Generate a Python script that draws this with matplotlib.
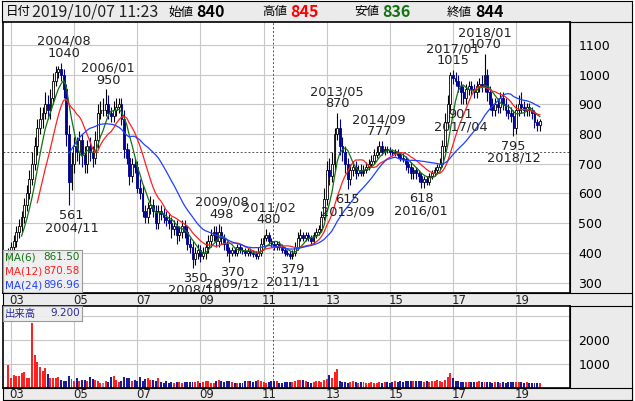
import numpy as np
import pandas as pd
import matplotlib
matplotlib.use("Agg")
import matplotlib.pyplot as plt
from matplotlib.patches import Rectangle

W, H = 635, 401
CJK = ["Noto Sans CJK JP", "DejaVu Sans"]

# monthly closes, 2002/12 .. 2019/10
closes = [400,
    420, 440, 470, 490, 520, 560, 600, 650, 700, 760, 820, 850,
    870, 900, 880, 920, 980, 1010, 1020, 1000, 950, 800, 640, 700,
    760, 740, 780, 730, 700, 760, 740, 720, 780, 870, 880, 880,
    900, 870, 860, 880, 890, 900, 850, 750, 720, 660, 700, 690,
    620, 600, 540, 520, 550, 560, 540, 500, 540, 530, 520, 510,
    500, 480, 490, 460, 470, 490, 470, 430, 420, 380, 400, 410,
    390, 400, 420, 440, 460, 470, 440, 470, 450, 430, 410, 400,
    410, 400, 420, 410, 405, 400, 405, 400, 395, 390, 400, 430,
    450, 460, 440, 430, 420, 430, 420, 410, 400, 395, 390, 400,
    420, 450, 460, 450, 460, 450, 440, 460, 470, 480, 520, 580,
    680, 660, 700, 800, 820, 760, 740, 700, 650, 680, 690, 670,
    680, 670, 680, 690, 700, 710, 730, 740, 760, 740, 750, 745,
    740, 735, 740, 730, 720, 715, 700, 690, 670, 680, 670, 660,
    640, 650, 640, 660, 670, 680, 690, 700, 760, 840, 900, 1000,
    990, 980, 960, 940, 920, 950, 960, 950, 940, 960, 970, 960,
    1000, 940, 900, 880, 900, 890, 920, 900, 880, 870, 860, 820,
    880, 900, 890, 880, 890, 880, 870, 840, 830, 844]

wick_up = [15,
    15, 20, 20, 25, 20, 25, 30, 30, 40, 30, 30, 40,
    20, 40, 30, 30, 25, 20, 10, 20, 20, 20, 30, 40,
    30, 30, 30, 20, 30, 20, 30, 20, 30, 30, 30, 40,
    50, 30, 20, 30, 30, 20, 20, 30, 20, 30, 20, 20,
    20, 30, 30, 20, 20, 30, 20, 20, 20, 20, 20, 20,
    20, 20, 20, 20, 20, 20, 20, 20, 20, 20, 20, 20,
    15, 20, 20, 20, 20, 20, 20, 28, 20, 15, 10, 10,
    10, 10, 10, 10, 10, 10, 10, 10, 10, 10, 20, 20,
    10, 20, 10, 10, 10, 10, 10, 10, 10, 10, 10, 10,
    15, 20, 20, 10, 10, 10, 10, 10, 15, 15, 20, 40,
    30, 40, 40, 20, 50, 30, 30, 20, 20, 20, 20, 20,
    15, 20, 15, 15, 15, 20, 20, 20, 17, 15, 10, 10,
    10, 10, 10, 10, 10, 15, 10, 10, 15, 10, 10, 10,
    10, 10, 10, 10, 10, 10, 10, 20, 20, 30, 30, 10,
    15, 20, 20, 20, 20, 20, 20, 20, 20, 20, 20, 30,
    70, 20, 20, 20, 20, 20, 20, 20, 20, 20, 20, 20,
    20, 30, 40, 20, 15, 15, 10, 10, 10, 6]

wick_dn = [20,
    20, 20, 20, 20, 20, 20, 20, 20, 20, 20, 30, 20,
    30, 20, 30, 30, 20, 20, 20, 20, 30, 40, 79, 30,
    30, 30, 40, 40, 30, 30, 30, 30, 20, 30, 20, 20,
    20, 20, 20, 20, 20, 20, 20, 30, 20, 30, 20, 20,
    20, 20, 20, 20, 20, 20, 20, 20, 20, 20, 20, 20,
    20, 30, 20, 30, 20, 20, 20, 20, 20, 30, 20, 20,
    20, 10, 20, 20, 20, 20, 20, 20, 20, 20, 20, 30,
    10, 10, 10, 10, 10, 10, 10, 10, 10, 10, 10, 10,
    10, 10, 10, 10, 10, 10, 10, 10, 10, 5, 11, 10,
    10, 10, 10, 10, 10, 10, 10, 10, 10, 10, 10, 10,
    20, 30, 20, 20, 20, 30, 30, 30, 35, 20, 20, 20,
    10, 10, 10, 10, 10, 10, 10, 10, 10, 10, 10, 10,
    10, 10, 10, 10, 10, 10, 20, 20, 20, 20, 20, 20,
    22, 20, 10, 10, 10, 10, 10, 10, 10, 20, 20, 20,
    20, 20, 20, 39, 20, 20, 20, 20, 20, 20, 20, 20,
    20, 30, 20, 20, 20, 20, 20, 20, 20, 20, 20, 25,
    20, 20, 20, 20, 20, 20, 20, 20, 20, 20]

volume = [950,
    420, 520, 480, 500, 620, 650, 430, 430, 2700, 1380, 1080, 880,
    700, 850, 560, 420, 400, 430, 470, 330, 300, 280, 480, 360,
    300, 420, 280, 350, 320, 270, 450, 380, 350, 300, 220, 220,
    300, 260, 440, 480, 340, 230, 290, 460, 400, 430, 270, 350,
    280, 470, 300, 370, 420, 350, 350, 300, 400, 230, 220, 280,
    220, 240, 200, 250, 250, 220, 230, 240, 250, 260, 230, 290,
    220, 250, 300, 290, 220, 220, 280, 320, 280, 240, 300, 280,
    260, 220, 200, 200, 220, 290, 300, 280, 230, 300, 320, 280,
    230, 200, 250, 300, 310, 300, 220, 210, 240, 230, 230, 240,
    280, 330, 350, 330, 300, 260, 200, 250, 310, 300, 250, 320,
    380, 520, 400, 650, 780, 300, 250, 230, 220, 250, 270, 260,
    220, 240, 230, 220, 220, 230, 200, 220, 230, 210, 240, 240,
    220, 250, 280, 250, 300, 250, 280, 300, 270, 300, 290, 300,
    300, 250, 290, 240, 300, 280, 320, 300, 260, 340, 450, 620,
    420, 300, 270, 250, 240, 230, 240, 230, 260, 250, 280, 240,
    230, 250, 240, 220, 260, 230, 220, 240, 220, 240, 230, 240,
    230, 240, 240, 220, 230, 220, 210, 220, 220, 200]

# (month index, price, first line, second line, above/below)
notes = [
    (21, 1040, "2004/08", "1040", "above"),
    (24, 561, "561", "2004/11", "below"),
    (38, 950, "2006/01", "950", "above"),
    (71, 350, "350", "2008/10", "below"),
    (81, 498, "2009/08", "498", "above"),
    (85, 370, "370", "2009/12", "below"),
    (99, 480, "2011/02", "480", "above"),
    (108, 379, "379", "2011/11", "below"),
    (125, 870, "2013/05", "870", "above"),
    (129, 615, "615", "2013/09", "below"),
    (141, 777, "2014/09", "777", "above"),
    (157, 618, "618", "2016/01", "below"),
    (169, 1015, "2017/01", "1015", "above"),
    (172, 901, "901", "2017/04", "below"),
    (181, 1070, "2018/01", "1070", "above"),
    (192, 795, "795", "2018/12", "below"),
]

year_labels = ["03", "05", "07", "09", "11", "13", "15", "17", "19"]
price_ticks = [300, 400, 500, 600, 700, 800, 900, 1000, 1100]
ma_names = ["MA(6)", "MA(12)", "MA(24)"]
ma_values = ["861.50", "870.58", "896.96"]

c = np.array(closes, dtype=float)
o = np.r_[c[0] - 20, c[:-1]]
hi = np.maximum(o, c) + np.array(wick_up)
lo = np.minimum(o, c) - np.array(wick_dn)
x = np.arange(len(c))
cs = pd.Series(c)
mas = [cs.rolling(n).mean() for n in (6, 12, 24)]
ma_cols = ["#137313", "#ff2020", "#2040ff"]

fig = plt.figure(figsize=(W / 100, H / 100), dpi=100)


def ax_px(x0, y0, x1, y1, **kw):
    return fig.add_axes([x0 / W, 1 - y1 / H, (x1 - x0) / W, (y1 - y0) / H], **kw)


xlim = (-2.04, 213.5)
jan = [1 + 24 * k for k in range(9)]
grey = "#ebebeb"

# header
hd = ax_px(2, 1, 632, 22)
hd.set_facecolor(grey)
hd.set_xticks([]); hd.set_yticks([])
hd.set_xlim(0, 630); hd.set_ylim(0, 21)
parts = [(4, "日付", 9, "normal", "k"), (30, "2019/10/07 11:23", 11.5, "normal", "#222"),
         (166, "始値", 9, "normal", "k"), (194, "840", 11.5, "bold", "k"),
         (260, "高値", 9, "normal", "k"), (288, "845", 11.5, "bold", "#ff0000"),
         (352, "安値", 9, "normal", "k"), (380, "836", 11.5, "bold", "#137313"),
         (445, "終値", 9, "normal", "k"), (473, "844", 11.5, "bold", "k")]
for px, t, fs, fw, col in parts:
    hd.text(px, 10, t, fontsize=fs, fontweight=fw, color=col, va="center", family=CJK)

# right grey area
rg = ax_px(570, 22, 632, 401)
rg.set_facecolor(grey); rg.set_xticks([]); rg.set_yticks([])

# main price panel
ax = ax_px(3, 22, 570, 293)
ax.set_xlim(*xlim); ax.set_ylim(265, 1177)
for yv in price_ticks:
    ax.axhline(yv, color="#c8c8c8", lw=0.8, zorder=0)
for xv in jan:
    ax.axvline(xv, color="#c8c8c8", lw=0.8, zorder=0)
ax.axhline(740, color="#555", lw=0.7, ls=(0, (2, 2)), zorder=1)
ax.axvline(100.5, color="#555", lw=0.7, ls=(0, (2, 2)), zorder=1)
up = c >= o
for i in range(len(c)):
    col = "k" if up[i] else "#000090"
    ax.vlines(x[i], lo[i], hi[i], color=col, lw=0.8, zorder=2)
    b0, b1 = min(o[i], c[i]), max(o[i], c[i])
    ax.add_patch(Rectangle((x[i] - 0.35, b0), 0.7, max(b1 - b0, 2),
                           facecolor="white" if up[i] else "#000090",
                           edgecolor=col, lw=0.6, zorder=3))
for m, col in zip(mas, ma_cols):
    ax.plot(x, m, color=col, lw=0.9, zorder=4)
for idx, p, t1, t2, pos in notes:
    if pos == "above":
        ax.annotate(t1 + "\n" + t2, (idx, p), xytext=(0, 2), textcoords="offset points",
                    ha="center", va="bottom", fontsize=9.3, linespacing=0.9,
                    color="#222", zorder=6)
    else:
        ax.annotate(t1 + "\n" + t2, (idx, p), xytext=(0, -3), textcoords="offset points",
                    ha="center", va="top", fontsize=9.3, linespacing=0.9,
                    color="#222", zorder=6)
ax.yaxis.tick_right()
ax.set_yticks(price_ticks)
ax.tick_params(axis="y", length=0, pad=6, labelsize=9)
ax.set_xticks([])
for s in ax.spines.values():
    s.set_linewidth(1.2)

# MA legend box
lg = ax_px(3, 250, 82, 293)
lg.set_facecolor((0.93, 0.93, 0.93, 0.85))
lg.set_xticks([]); lg.set_yticks([])
lg.set_xlim(0, 79); lg.set_ylim(0, 43)
for k, (nm, v, col) in enumerate(zip(ma_names, ma_values, ma_cols)):
    yy = 36 - k * 14
    lg.text(2, yy, nm, color=col, fontsize=7.5, va="center")
    lg.text(77, yy, v, color=col, fontsize=7.5, va="center", ha="right")
for s in lg.spines.values():
    s.set_color("#999")

# date strips
for y0, y1 in [(293, 306), (388, 400)]:
    ds = ax_px(3, y0, 632, y1)
    ds.set_facecolor(grey)
    ds.set_xlim(xlim[0], xlim[0] + (xlim[1] - xlim[0]) * 629 / 567)
    ds.set_ylim(0, 1); ds.set_xticks([]); ds.set_yticks([])
    for xv, lab in zip(jan, year_labels):
        ds.text(xv + 2.3, 0.45, lab, fontsize=8.5, ha="center", va="center", color="#222")

# volume panel
vx = ax_px(3, 306, 570, 388)
vx.set_xlim(*xlim); vx.set_ylim(0, 3400)
for yv in (1000, 2000, 3000):
    vx.axhline(yv, color="#c8c8c8", lw=0.8, zorder=0)
for xv in jan:
    vx.axvline(xv, color="#c8c8c8", lw=0.8, zorder=0)
vx.axvline(100.5, color="#555", lw=0.7, ls=(0, (2, 2)), zorder=1)
vcol = np.where(c > o, "#ff2020", np.where(c < o, "#1a1a9a", "#999999"))
vx.bar(x, volume, width=0.75, color=vcol, zorder=2)
vx.yaxis.tick_right()
vx.set_yticks([1000, 2000])
vx.tick_params(axis="y", length=0, pad=6, labelsize=9)
vx.set_xticks([])
for s in vx.spines.values():
    s.set_linewidth(1.2)

vb = ax_px(3, 306, 82, 321)
vb.set_facecolor((0.93, 0.93, 0.93, 0.9))
vb.set_xticks([]); vb.set_yticks([])
vb.set_xlim(0, 79); vb.set_ylim(0, 15)
vb.text(2, 7.5, "出来高", color="#2a2a9a", fontsize=7.5, va="center", family=CJK)
vb.text(77, 7.5, "9.200", color="#2a2a9a", fontsize=7.5, va="center", ha="right")
for s in vb.spines.values():
    s.set_color("#999")

fig.savefig("out.png", dpi=100)
